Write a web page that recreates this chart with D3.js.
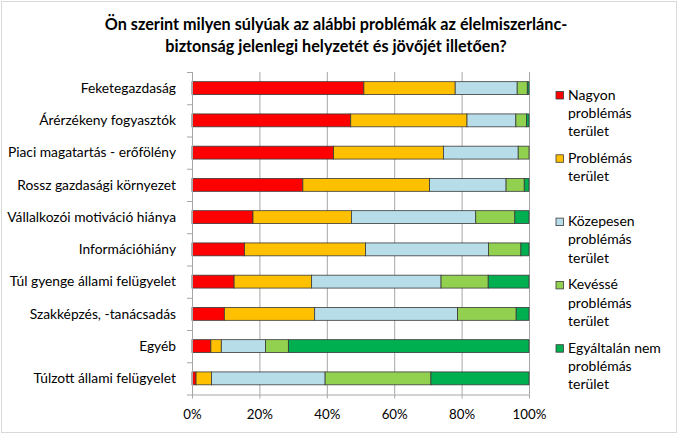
<!DOCTYPE html>
<html>
<head>
<meta charset="utf-8">
<script src="https://cdn.jsdelivr.net/npm/d3@7"></script>
<style>
  body { margin: 0; background: #fff; }
  text { font-family: Lato, "Open Sans", sans-serif; fill: #000; }
</style>
</head>
<body>
<script>
var width = 681, height = 435

// data (percent of answers)
var categories = ["Feketegazdaság", "Árérzékeny fogyasztók", "Piaci magatartás - erőfölény",
  "Rossz gazdasági környezet", "Vállalkozói motiváció hiánya", "Információhiány",
  "Túl gyenge állami felügyelet", "Szakképzés, -tanácsadás", "Egyéb", "Túlzott állami felügyelet"]
var seriesNames = ["Nagyon problémás terület", "Problémás terület", "Közepesen problémás terület",
  "Kevéssé problémás terület", "Egyáltalán nem problémás terület"]
var nagyon     = [51.0, 47.1, 42.0, 32.9, 18.1, 15.6, 12.5,  9.6,  5.6,  1.2]
var problemas  = [27.1, 34.5, 32.6, 37.6, 29.2, 35.9, 23.0, 26.8,  3.1,  4.6]
var kozepesen  = [18.4, 14.5, 22.2, 22.7, 36.9, 36.5, 38.4, 42.4, 13.1, 33.7]
var kevesse    = [ 3.0,  3.2,  3.2,  5.4, 11.6,  9.6, 14.0, 17.4,  6.8, 31.4]
var egyaltalan = [ 0.5,  0.7,  0.0,  1.4,  4.2,  2.4, 12.1,  3.8, 71.4, 29.1]
var xTicks = [0, 20, 40, 60, 80, 100]

var colors = ["#ff0000", "#ffc000", "#b7dde8", "#92d050", "#00b050"]
var legendLines = [["Nagyon", "problémás", "terület"], ["Problémás", "terület"],
  ["Közepesen", "problémás", "terület"], ["Kevéssé", "problémás", "terület"],
  ["Egyáltalán nem", "problémás", "terület"]]

var rows = categories.map(function(c, i) {
  return {cat: c, v: [nagyon[i], problemas[i], kozepesen[i], kevesse[i], egyaltalan[i]]}
})
var stack = d3.stack().keys([0, 1, 2, 3, 4]).value(function(d, k) { return d.v[k] })
var layers = stack(rows)

var svg = d3.select("body").append("svg")
  .attr("width", width).attr("height", height)

svg.append("rect")
  .attr("x", 1.5).attr("y", 1.5).attr("width", 675).attr("height", 431)
  .attr("fill", "#fff").attr("stroke", "#d9d9d9")

var plotLeft = 192, plotRight = 529, plotTop = 72, plotBottom = 394.5

var xScale = d3.scaleLinear().domain([0, 100]).range([plotLeft, plotRight])
var yScale = d3.scaleBand().domain(categories).range([plotTop, plotBottom]).paddingInner(0.6).paddingOuter(0.3)

// title
svg.append("text").attr("x", 336).attr("y", 30).attr("text-anchor", "middle")
  .style("font-size", "16.2px").style("font-weight", "bold")
  .text("Ön szerint milyen súlyúak az alábbi problémák az élelmiszerlánc-")
svg.append("text").attr("x", 336).attr("y", 52).attr("text-anchor", "middle")
  .style("font-size", "16.2px").style("font-weight", "bold")
  .text("biztonság jelenlegi helyzetét és jövőjét illetően?")

// grid
var xGrid = d3.axisBottom(xScale).tickValues(xTicks).tickFormat("").tickSizeInner(-(plotBottom - plotTop)).tickSizeOuter(0)
svg.append("g").attr("class", "x-grid")
  .attr("transform", "translate(0," + plotBottom + ")")
  .call(xGrid)
  .call(function(g) {
    g.select(".domain").remove()
    g.selectAll("line").attr("stroke", "#a6a6a6")
  })

// bars
svg.append("g").selectAll("g").data(layers).enter().append("g")
  .attr("fill", function(d, i) { return colors[i] })
  .selectAll("rect").data(function(d) { return d }).enter().append("rect")
  .attr("x", function(d) { return xScale(d[0]) })
  .attr("width", function(d) { return xScale(d[1]) - xScale(d[0]) })
  .attr("y", function(d) { return yScale(d.data.cat) })
  .attr("height", yScale.bandwidth())
  .attr("stroke", "#3a3a3a").attr("stroke-width", 0.8)

// x axis
var xAxis = d3.axisBottom(xScale).tickValues(xTicks).tickFormat(function(d) { return d + "%" })
  .tickSizeInner(4).tickSizeOuter(0)
svg.append("g").attr("transform", "translate(0," + plotBottom + ")").call(xAxis)
  .call(function(g) {
    g.select(".domain").attr("stroke", "#a6a6a6")
    g.selectAll("line").attr("stroke", "#a6a6a6")
    g.selectAll("text").style("font-size", "13.3px").attr("dy", "1.35em")
  })

// y axis
var yAxis = d3.axisLeft(d3.scaleLinear().domain([0, 10]).range([plotTop, plotBottom]))
  .ticks(10).tickFormat("").tickSizeInner(5).tickSizeOuter(0)
svg.append("g").attr("transform", "translate(" + plotLeft + ",0)").call(yAxis)
  .call(function(g) {
    g.select(".domain").attr("stroke", "#a6a6a6")
    g.selectAll("line").attr("stroke", "#a6a6a6")
  })
svg.append("g").selectAll("text").data(categories).enter().append("text")
  .attr("x", plotLeft - 16)
  .attr("y", function(d) { return yScale(d) + yScale.bandwidth() / 2 })
  .attr("dy", "0.35em").attr("text-anchor", "end")
  .style("font-size", "13.8px")
  .text(function(d) { return d })

// legend
var legend = svg.append("g").selectAll("g").data(seriesNames).enter().append("g")
  .attr("transform", function(d, i) { return "translate(556," + (91.5 + i * 63.3) + ")" })
legend.append("rect").attr("width", 7.5).attr("height", 7.5)
  .attr("fill", function(d, i) { return colors[i] })
  .attr("stroke", "#3a3a3a").attr("stroke-width", 0.8)
legend.each(function(d, i) {
  var t = d3.select(this).append("text").attr("x", 12).attr("y", 8)
    .style("font-size", "14px")
  legendLines[i].forEach(function(line, j) {
    t.append("tspan").attr("x", 12).attr("dy", j ? 18.3 : 0).text(line)
  })
})
</script>
</body>
</html>
